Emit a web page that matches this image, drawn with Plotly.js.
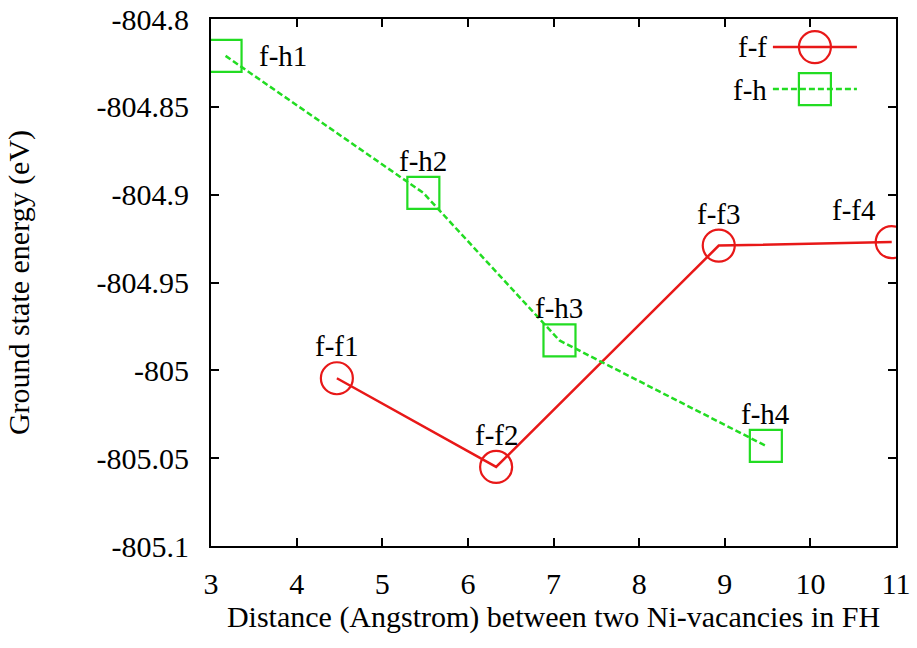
<!DOCTYPE html>
<html><head><meta charset="utf-8">
<script src="https://cdn.plot.ly/plotly-3.0.1.min.js"></script>
<style>html,body{margin:0;padding:0;background:#fff}
.legend .legendtext{display:none}
.legend .legendpoints{transform: translate(47px,0px) scale(2) translate(-47px,0px);}
.legend .legendpoints path{vector-effect: non-scaling-stroke;}
.modebar-container,.modebar{display:none !important}
#fontwarm{position:absolute;left:640px;top:480px;z-index:-1;font-family:'Liberation Serif';font-size:30px;color:#000}
#chart{position:relative;z-index:1}</style>
</head><body>
<div id="fontwarm">0</div>
<div id="chart" style="width:917px;height:648px"></div>
<script>
// ---- data ----
const seriesNames = ['f-f', 'f-h'];
const ffX = [4.47, 6.33, 8.93, 10.95];
const ffY = [-805.0045, -805.055, -804.929, -804.927];
const ffLabels = ['f-f1', 'f-f2', 'f-f3', 'f-f4'];
const fhX = [3.17, 5.48, 7.07, 9.48];
const fhY = [-804.821, -804.899, -804.983, -805.043];
const fhLabels = ['f-h1', 'f-h2', 'f-h3', 'f-h4'];
const xTickVals = [3, 4, 5, 6, 7, 8, 9, 10, 11];
const xTickText = ['3', '4', '5', '6', '7', '8', '9', '10', '11'];
const yTickVals = [-805.1, -805.05, -805, -804.95, -804.9, -804.85, -804.8];
const yTickText = ['-805.1', '-805.05', '-805', '-804.95', '-804.9', '-804.85', '-804.8'];
const xTitle = 'Distance (Angstrom) between two Ni-vacancies in FH';
const yTitle = 'Ground state energy (eV)';

// ---- styling ----
const SERIF = 'Liberation Serif';
const RED = 'rgb(232,24,24)';
const GREEN = 'rgb(34,220,34)';
// label placement (pixel shifts) per point
const ffShift = [[0, 32, 'center'], [0, 32, 'center'], [0, 32, 'center'], [-38, 32, 'center']];
const fhShift = [[31, 0, 'left'], [0, 32, 'center'], [0, 32, 'center'], [0, 32, 'center']];

const traces = [
  {
    x: ffX, y: ffY, type: 'scatter', mode: 'lines+markers', name: seriesNames[0],
    line: {color: RED, width: 2.5},
    marker: {symbol: 'circle-open', size: 32, color: RED, line: {width: 2.2, color: RED}},
    hovertext: ffLabels, hoverinfo: 'text+x+y'
  },
  {
    x: fhX, y: fhY, type: 'scatter', mode: 'lines+markers', name: seriesNames[1],
    line: {color: GREEN, width: 2.5, dash: '6px,3px'},
    marker: {symbol: 'square-open', size: 32, color: GREEN, line: {width: 2.2, color: GREEN}},
    hovertext: fhLabels, hoverinfo: 'text+x+y'
  }
];

const annotations = [];
function addLabels(xs, ys, labels, shifts) {
  labels.forEach((t, i) => {
    annotations.push({
      x: xs[i], y: ys[i], xref: 'x', yref: 'y', text: t, showarrow: false,
      xanchor: shifts[i][2], yanchor: 'middle', xshift: shifts[i][0], yshift: shifts[i][1],
      font: {family: SERIF, size: 29, color: '#000'}
    });
  });
}
addLabels(ffX, ffY, ffLabels, ffShift);
addLabels(fhX, fhY, fhLabels, fhShift);
// legend labels (text left of symbol, as in the reference)
annotations.push({xref: 'paper', yref: 'paper', x: 0.815, y: 0.946, text: seriesNames[0], showarrow: false,
  xanchor: 'right', yanchor: 'middle', font: {family: SERIF, size: 29, color: '#000'}});
annotations.push({xref: 'paper', yref: 'paper', x: 0.815, y: 0.866, text: seriesNames[1], showarrow: false,
  xanchor: 'right', yanchor: 'middle', font: {family: SERIF, size: 29, color: '#000'}});

const axisCommon = {
  showline: true, linewidth: 2, linecolor: '#000', mirror: 'ticks',
  ticks: 'inside', ticklen: 8, tickwidth: 2, tickcolor: '#000',
  showgrid: false, zeroline: false,
  tickfont: {family: SERIF, size: 30, color: '#000'}
};

const layout = {
  width: 917, height: 648,
  margin: {l: 211, r: 21, t: 19, b: 102},
  paper_bgcolor: '#fff', plot_bgcolor: '#fff',
  font: {family: SERIF, size: 30, color: '#000'},
  xaxis: Object.assign({}, axisCommon, {
    range: [3, 11], tickmode: 'array', tickvals: xTickVals, ticktext: xTickText,
    ticklabelstandoff: 10,
    title: {text: xTitle, font: {family: SERIF, size: 30, color: '#000'}, standoff: 3}
  }),
  yaxis: Object.assign({}, axisCommon, {
    range: [-805.1, -804.8], tickmode: 'array', tickvals: yTickVals, ticktext: yTickText,
    ticklabelstandoff: 14,
    title: {text: yTitle, font: {family: SERIF, size: 30, color: '#000'}, standoff: 58}
  }),
  showlegend: true,
  legend: {x: 0.813, y: 0.996, xanchor: 'left', yanchor: 'top', bgcolor: 'rgba(0,0,0,0)',
    itemwidth: 84, font: {family: SERIF, size: 30}, tracegroupgap: 0},
  annotations: annotations
};

function draw() { Plotly.newPlot('chart', traces, layout); }
draw();
setTimeout(draw, 150);
</script>
</body></html>
